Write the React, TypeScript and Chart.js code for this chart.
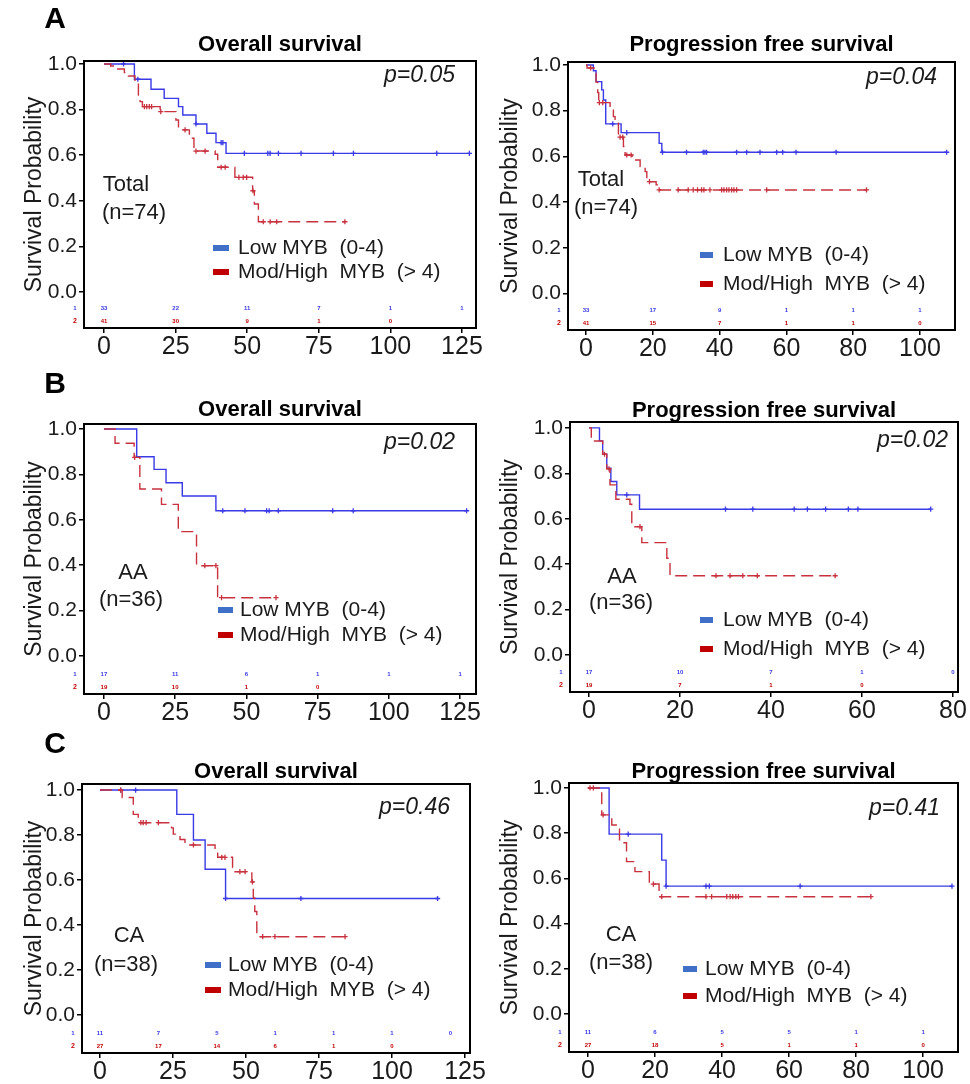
import React, { useEffect, useRef } from "react";
import { Chart, registerables } from "chart.js";

Chart.register(...registerables);

const FONT = "'Liberation Sans', Arial, Helvetica, sans-serif";
const LINE_BLUE = "#3a3ae6";
const LINE_RED = "#c8323f";
const KEY_BLUE = "#3f6fc6";
const KEY_RED = "#c00000";
const TEXT = "#1a1a1a";

// ---------- shared labels / ticks ----------
const seriesLabels = ["Low MYB  (0-4)", "Mod/High  MYB  (> 4)"];
const yTicks = [0, 0.2, 0.4, 0.6, 0.8, 1.0];
const xTicks125 = [0, 25, 50, 75, 100, 125];
const xTicks100 = [0, 20, 40, 60, 80, 100];
const xTicks80 = [0, 20, 40, 60, 80];
const riskTimesCaOs = [0, 20, 40, 60, 80, 100, 120];

// ---------- A: Total (n=74), overall survival ----------
const aOsLowTimes = [0, 10.6, 16.4, 21, 26, 27.5, 32.1, 35.9, 39.1, 42.6, 127.8];
const aOsLowSurv = [1, 0.933, 0.889, 0.849, 0.813, 0.776, 0.737, 0.696, 0.655, 0.608, 0.608];
const aOsLowCensor = [6.8, 11.8, 32.1, 40.9, 41.5, 49, 57.2, 58, 60.9, 68.8, 80.1, 87.1, 116.2, 127.6];
const aOsHighTimes = [0, 2.3, 3.8, 7.1, 8.5, 10.8, 12, 12.6, 13.4, 19.6, 25.1, 26, 29.8, 31.4, 38.8, 39.7, 45.7, 51.9, 52.5, 53.9, 84.1];
const aOsHighSurv = [1, 0.991, 0.978, 0.962, 0.947, 0.925, 0.864, 0.835, 0.813, 0.791, 0.754, 0.711, 0.674, 0.618, 0.604, 0.547, 0.503, 0.444, 0.386, 0.308, 0.308];
const aOsHighCensor = [14.1, 14.9, 15.8, 16.6, 19.8, 28.3, 32.1, 35.3, 40.9, 42.3, 47.1, 48.6, 49.8, 52, 55.6, 58, 60.3, 84.1];
const aOsRiskLow = ["33", "22", "11", "7", "1", "1"];
const aOsRiskHigh = ["41", "30", "9", "1", "0"];

// ---------- A: Total (n=74), progression free survival ----------
const aPfsLowTimes = [0, 2.2, 3, 4.7, 5.2, 5.9, 10.5, 21.9, 22.7, 108];
const aPfsLowSurv = [1, 0.975, 0.927, 0.891, 0.847, 0.742, 0.704, 0.657, 0.618, 0.618];
const aPfsLowCensor = [8, 12.2, 22.9, 30.1, 35.1, 35.6, 36.1, 45.1, 48.1, 52.1, 57.1, 58.9, 62.9, 74.9, 108];
const aPfsHighTimes = [0, 0.3, 2.4, 3.0, 3.5, 3.8, 7.2, 8.2, 8.7, 9.7, 11.2, 11.7, 13.8, 16.2, 17.7, 18.2, 21, 21.7, 84];
const aPfsHighSurv = [1, 0.987, 0.964, 0.925, 0.879, 0.835, 0.806, 0.774, 0.752, 0.684, 0.643, 0.606, 0.584, 0.555, 0.533, 0.489, 0.475, 0.453, 0.453];
const aPfsHighCensor = [1.4, 4.0, 5.0, 10.2, 11, 12.2, 13.5, 19, 21.9, 27.6, 30.6, 32.1, 33.4, 34.6, 35.3, 37.1, 40.6, 41.3, 42.1, 42.8, 43.6, 44.3, 45.1, 54.1, 84];
const aPfsRiskLow = ["33", "17", "9", "1", "1", "1"];
const aPfsRiskHigh = ["41", "15", "7", "1", "1", "0"];

// ---------- B: AA (n=36), overall survival ----------
const bOsLowTimes = [0, 11.5, 17.6, 21.8, 27.5, 39.3, 127.3];
const bOsLowSurv = [1, 0.878, 0.822, 0.763, 0.705, 0.64, 0.64];
const bOsLowCensor = [41.7, 49.5, 57.1, 58, 61.2, 80.3, 87.5, 127.3];
const bOsHighTimes = [0, 3.9, 10.6, 12.6, 20.2, 26.1, 32.5, 39.9, 60.4];
const bOsHighSurv = [1, 0.937, 0.875, 0.736, 0.668, 0.548, 0.398, 0.257, 0.257];
const bOsHighCensor = [10.8, 35.4, 39.3, 41.3, 60.4];
const bOsRiskLow = ["17", "11", "6", "1", "1", "1"];
const bOsRiskHigh = ["19", "10", "1", "0"];

// ---------- B: AA (n=36), progression free survival ----------
const bPfsLowTimes = [0, 2.3, 3, 3.9, 4.8, 6.1, 11.1, 75.1];
const bPfsLowSurv = [1, 0.943, 0.884, 0.823, 0.764, 0.705, 0.642, 0.642];
const bPfsLowCensor = [8.3, 30, 36, 45.1, 48, 52, 57, 59.1, 75.1];
const bPfsHighTimes = [0, 0.5, 3, 3.9, 4.6, 5.9, 9, 9.4, 11.6, 17.1, 17.8, 54.1];
const bPfsHighSurv = [1, 0.942, 0.884, 0.82, 0.749, 0.686, 0.664, 0.565, 0.495, 0.426, 0.349, 0.349];
const bPfsHighCensor = [3.4, 4.4, 11.2, 27.9, 31, 33.8, 37, 54.1];
const bPfsRiskLow = ["17", "10", "7", "1", "0"];
const bPfsRiskHigh = ["19", "7", "1", "0"];

// ---------- C: CA (n=38), overall survival ----------
const cOsLowTimes = [0, 26.3, 32, 36, 43, 115.6];
const cOsLowSurv = [1, 0.892, 0.778, 0.648, 0.518, 0.518];
const cOsLowCensor = [7.1, 12.2, 43, 68.8, 115.6];
const cOsHighTimes = [0, 7.6, 11.4, 13.1, 24.5, 25.1, 27.4, 29.1, 39.4, 40.3, 45.4, 46.2, 52, 52.5, 53, 53.7, 83.9];
const cOsHighSurv = [1, 0.967, 0.892, 0.855, 0.832, 0.804, 0.78, 0.756, 0.726, 0.701, 0.656, 0.637, 0.592, 0.52, 0.46, 0.348, 0.348];
const cOsHighCensor = [7.1, 14, 14.8, 15.8, 20, 32, 41.7, 42.8, 47.9, 49.7, 52.2, 55.7, 59.9, 83.9];
const cOsRiskLow = ["11", "7", "5", "1", "1", "1", "0"];
const cOsRiskHigh = ["27", "17", "14", "6", "1", "0"];

// ---------- C: CA (n=38), progression free survival ----------
const cPfsLowTimes = [0, 6.3, 22, 23.3, 108.6];
const cPfsLowSurv = [1, 0.796, 0.681, 0.566, 0.566];
const cPfsLowCensor = [12, 23.3, 35.2, 36.2, 63.3, 108.6];
const cPfsHighTimes = [0, 4.1, 7.1, 9.4, 11.5, 14, 18.3, 21.2, 84.4];
const cPfsHighSurv = [1, 0.881, 0.836, 0.758, 0.674, 0.63, 0.575, 0.519, 0.519];
const cPfsHighCensor = [0.6, 1.6, 4.5, 19.5, 22, 35.2, 36.9, 41.4, 42.4, 43.2, 44.1, 44.9, 84.4];
const cPfsRiskLow = ["11", "6", "5", "5", "1", "1"];
const cPfsRiskHigh = ["27", "18", "5", "1", "1", "0"];

type Curve = { times: number[]; surv: number[]; censor: number[] };
type Spec = {
  box: { x: number; y: number; w: number; h: number };
  frame: { l: number; t: number; r: number; b: number };
  xMin: number; xMax: number; yMin: number; yMax: number;
  xTicks: number[];
  title: string; titleY: number;
  pText: string; pX: number; pY: number;
  groups: [string, number, number][];
  legend: { sx: number; sw: number; tx: number; rows: number[] };
  letter?: [string, number, number];
  low: Curve; high: Curve;
  riskTimes: number[]; riskLow: string[]; riskHigh: string[];
};

function survAt(times: number[], surv: number[], t: number) {
  let s = surv[0];
  for (let i = 0; i < times.length; i++) if (times[i] <= t) s = surv[i];
  return s;
}

const specs: Spec[] = [
  {
    box: { x: 14, y: 0, w: 476, h: 365 }, frame: { l: 84, t: 61, r: 476, b: 328 },
    xMin: -7.0, xMax: 129.9, yMin: -0.158, yMax: 1.013, xTicks: xTicks125,
    title: "Overall survival", titleY: 45, pText: "p=0.05", pX: 455, pY: 76,
    groups: [["Total", 126, 185], ["(n=74)", 134, 213]],
    legend: { sx: 213, sw: 16, tx: 238, rows: [248, 272] }, letter: ["A", 55, 20],
    low: { times: aOsLowTimes, surv: aOsLowSurv, censor: aOsLowCensor },
    high: { times: aOsHighTimes, surv: aOsHighSurv, censor: aOsHighCensor },
    riskTimes: xTicks125, riskLow: aOsRiskLow, riskHigh: aOsRiskHigh,
  },
  {
    box: { x: 490, y: 0, w: 480, h: 365 }, frame: { l: 568, t: 62, r: 955, b: 330 },
    xMin: -5.4, xMax: 110.5, yMin: -0.16, yMax: 1.013, xTicks: xTicks100,
    title: "Progression free survival", titleY: 45, pText: "p=0.04", pX: 937, pY: 78,
    groups: [["Total", 601, 180], ["(n=74)", 606, 208]],
    legend: { sx: 700, sw: 13, tx: 723, rows: [255, 284] },
    low: { times: aPfsLowTimes, surv: aPfsLowSurv, censor: aPfsLowCensor },
    high: { times: aPfsHighTimes, surv: aPfsHighSurv, censor: aPfsHighCensor },
    riskTimes: xTicks100, riskLow: aPfsRiskLow, riskHigh: aPfsRiskHigh,
  },
  {
    box: { x: 14, y: 365, w: 476, h: 360 }, frame: { l: 84, t: 424, r: 476, b: 694 },
    xMin: -7.0, xMax: 130.6, yMin: -0.167, yMax: 1.022, xTicks: xTicks125,
    title: "Overall survival", titleY: 410, pText: "p=0.02", pX: 455, pY: 443,
    groups: [["AA", 133, 573], ["(n=36)", 131, 600]],
    legend: { sx: 218, sw: 15, tx: 240, rows: [610, 635] }, letter: ["B", 55, 385],
    low: { times: bOsLowTimes, surv: bOsLowSurv, censor: bOsLowCensor },
    high: { times: bOsHighTimes, surv: bOsHighSurv, censor: bOsHighCensor },
    riskTimes: xTicks125, riskLow: bOsRiskLow, riskHigh: bOsRiskHigh,
  },
  {
    box: { x: 490, y: 365, w: 480, h: 360 }, frame: { l: 570, t: 422, r: 958, b: 692 },
    xMin: -4.18, xMax: 81.1, yMin: -0.163, yMax: 1.026, xTicks: xTicks80,
    title: "Progression free survival", titleY: 411, pText: "p=0.02", pX: 948, pY: 441,
    groups: [["AA", 622, 577], ["(n=36)", 621, 603]],
    legend: { sx: 700, sw: 13, tx: 723, rows: [620, 649] },
    low: { times: bPfsLowTimes, surv: bPfsLowSurv, censor: bPfsLowCensor },
    high: { times: bPfsHighTimes, surv: bPfsHighSurv, censor: bPfsHighCensor },
    riskTimes: xTicks80, riskLow: bPfsRiskLow, riskHigh: bPfsRiskHigh,
  },
  {
    box: { x: 14, y: 725, w: 476, h: 359 }, frame: { l: 82, t: 784, r: 470, b: 1053 },
    xMin: -6.16, xMax: 126.7, yMin: -0.169, yMax: 1.027, xTicks: xTicks125,
    title: "Overall survival", titleY: 772, pText: "p=0.46", pX: 450, pY: 808,
    groups: [["CA", 129, 936], ["(n=38)", 126, 965]],
    legend: { sx: 205, sw: 16, tx: 228, rows: [965, 990] }, letter: ["C", 55, 745],
    low: { times: cOsLowTimes, surv: cOsLowSurv, censor: cOsLowCensor },
    high: { times: cOsHighTimes, surv: cOsHighSurv, censor: cOsHighCensor },
    riskTimes: riskTimesCaOs, riskLow: cOsRiskLow, riskHigh: cOsRiskHigh,
  },
  {
    box: { x: 490, y: 725, w: 480, h: 359 }, frame: { l: 569, t: 783, r: 958, b: 1052 },
    xMin: -5.67, xMax: 110.4, yMin: -0.168, yMax: 1.022, xTicks: xTicks100,
    title: "Progression free survival", titleY: 772, pText: "p=0.41", pX: 940, pY: 809,
    groups: [["CA", 621, 935], ["(n=38)", 621, 963]],
    legend: { sx: 683, sw: 14, tx: 705, rows: [969, 996] },
    low: { times: cPfsLowTimes, surv: cPfsLowSurv, censor: cPfsLowCensor },
    high: { times: cPfsHighTimes, surv: cPfsHighSurv, censor: cPfsHighCensor },
    riskTimes: xTicks100, riskLow: cPfsRiskLow, riskHigh: cPfsRiskHigh,
  },
];

function lineDs(c: Curve, color: string, dash: number[]) {
  return {
    type: "line" as const,
    data: c.times.map((t, i) => ({ x: t, y: c.surv[i] })),
    stepped: true,
    borderColor: color,
    borderWidth: 1.4,
    borderDash: dash,
    pointRadius: 0,
    fill: false,
  };
}
function censorDs(c: Curve, color: string) {
  return {
    type: "scatter" as const,
    data: c.censor.map((t) => ({ x: t, y: survAt(c.times, c.surv, t) })),
    showLine: false,
    pointStyle: "cross",
    pointRadius: 2.6,
    pointBorderWidth: 1.3,
    pointBorderColor: color,
    borderColor: color,
    backgroundColor: color,
  };
}

function Panel({ s }: { s: Spec }) {
  const ref = useRef<HTMLCanvasElement>(null);
  useEffect(() => {
    const canvas = ref.current;
    if (!canvas) return;
    const ox = s.box.x, oy = s.box.y;
    const annot = {
      id: "annot",
      afterDraw(chart: any) {
        const ctx = chart.ctx as CanvasRenderingContext2D;
        const ca = chart.chartArea;
        const xs = chart.scales.x;
        ctx.save();
        // title
        ctx.fillStyle = "#000";
        ctx.textAlign = "center";
        ctx.textBaseline = "middle";
        ctx.font = `bold 22px ${FONT}`;
        ctx.fillText(s.title, (ca.left + ca.right) / 2, s.titleY - oy);
        // frame
        ctx.strokeStyle = "#000";
        ctx.lineWidth = 2;
        ctx.strokeRect(ca.left, ca.top, ca.right - ca.left, ca.bottom - ca.top);
        // panel letter
        if (s.letter) {
          ctx.font = `bold 30px ${FONT}`;
          ctx.fillStyle = "#000";
          ctx.fillText(s.letter[0], s.letter[1] - ox, s.letter[2] - oy);
        }
        // p value
        ctx.font = `italic 23px ${FONT}`;
        ctx.fillStyle = TEXT;
        ctx.textAlign = "right";
        ctx.fillText(s.pText, s.pX - ox, s.pY - oy);
        // group labels
        ctx.font = `22px ${FONT}`;
        ctx.textAlign = "center";
        s.groups.forEach(([t, x, y]) => ctx.fillText(t, x - ox, y - oy));
        // legend
        ctx.font = `21px ${FONT}`;
        ctx.textAlign = "left";
        [KEY_BLUE, KEY_RED].forEach((col, i) => {
          const y = s.legend.rows[i] - oy;
          ctx.fillStyle = col;
          ctx.fillRect(s.legend.sx - ox, y - 3, s.legend.sw, 6);
          ctx.fillStyle = TEXT;
          ctx.fillText(seriesLabels[i], s.legend.tx - ox, y);
        });
        // numbers at risk
        ctx.font = `bold 6px ${FONT}`;
        ctx.textAlign = "center";
        const rowLow = ca.bottom - 20, rowHigh = ca.bottom - 7;
        ctx.fillStyle = LINE_BLUE;
        s.riskLow.forEach((n, i) => ctx.fillText(n, xs.getPixelForValue(s.riskTimes[i]), rowLow));
        ctx.fillText("1", ca.left - 9, rowLow);
        ctx.fillStyle = KEY_RED;
        s.riskHigh.forEach((n, i) => ctx.fillText(n, xs.getPixelForValue(s.riskTimes[i]), rowHigh));
        ctx.font = `bold 7px ${FONT}`;
        ctx.fillText("2", ca.left - 9, rowHigh);
        ctx.restore();
      },
    };
    const chart = new Chart(canvas, {
      type: "line",
      data: {
        datasets: [
          lineDs(s.high, LINE_RED, [12, 6]),
          censorDs(s.high, LINE_RED),
          lineDs(s.low, LINE_BLUE, []),
          censorDs(s.low, LINE_BLUE),
        ] as any,
      },
      options: {
        responsive: false,
        animation: false,
        devicePixelRatio: 1,
        events: [],
        layout: {
          padding: { top: s.frame.t - s.box.y, right: s.box.x + s.box.w - s.frame.r, left: 0, bottom: 0 },
        },
        plugins: { legend: { display: false }, tooltip: { enabled: false }, title: { display: false } },
        scales: {
          x: {
            type: "linear",
            min: s.xMin,
            max: s.xMax,
            afterBuildTicks: (sc: any) => { sc.ticks = s.xTicks.map((v) => ({ value: v })); },
            afterFit: (sc: any) => { sc.height = s.box.y + s.box.h - s.frame.b; },
            ticks: { autoSkip: false, maxRotation: 0, padding: -1, color: TEXT, font: { family: FONT, size: 25 } },
            grid: { drawOnChartArea: false, drawTicks: true, tickLength: 5, color: "#000", lineWidth: 1.5 },
            border: { display: false },
          },
          y: {
            type: "linear",
            min: s.yMin,
            max: s.yMax,
            afterBuildTicks: (sc: any) => { sc.ticks = yTicks.map((v) => ({ value: v })); },
            afterFit: (sc: any) => { sc.width = s.frame.l - s.box.x; },
            ticks: {
              autoSkip: false, padding: 2, color: TEXT, font: { family: FONT, size: 21 },
              callback: (v: any) => Number(v).toFixed(1),
            },
            grid: { drawOnChartArea: false, drawTicks: true, tickLength: 5, color: "#000", lineWidth: 1.5 },
            border: { display: false },
            title: { display: true, text: "Survival Probability", color: TEXT, font: { family: FONT, size: 23 }, padding: 7 },
          },
        },
      } as any,
      plugins: [annot],
    });
    return () => chart.destroy();
  }, []);
  return (
    <canvas
      ref={ref}
      width={s.box.w}
      height={s.box.h}
      style={{ position: "absolute", left: s.box.x, top: s.box.y, width: s.box.w, height: s.box.h }}
    />
  );
}

export default function App() {
  return (
    <div style={{ position: "absolute", left: 0, top: 0, width: 970, height: 1084, background: "#fff", overflow: "hidden" }}>
      {specs.map((s, i) => (
        <Panel key={i} s={s} />
      ))}
    </div>
  );
}
